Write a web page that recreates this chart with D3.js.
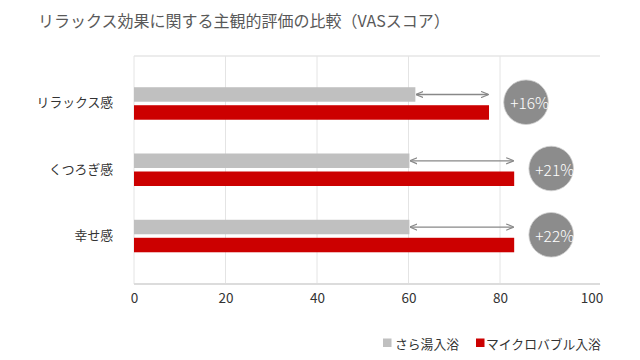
<!DOCTYPE html>
<html><head><meta charset="utf-8">
<script src="https://cdn.jsdelivr.net/npm/d3@7/dist/d3.min.js"></script>
<style>body{margin:0;background:#fff}svg{display:block}text{font-family:"Noto Sans CJK JP","Noto Sans",sans-serif}</style>
</head><body><svg id="c" width="640" height="360"></svg>
<script>
const title = "リラックス効果に関する主観的評価の比較（VASスコア）";
const categories = ["リラックス感", "くつろぎ感", "幸せ感"];
const seriesNames = ["さら湯入浴", "マイクロバブル入浴"];
const plainBath = [61.5, 60.2, 60.2];
const microBubble = [77.6, 83.1, 83.1];
const increaseLabels = ["+16%", "+21%", "+22%"];
const xTicks = [0, 20, 40, 60, 80, 100];
const colors = ["#c0c0c0", "#cc0000"];

const svg = d3.select("#c");
const pL = 134, pR = 600, pT = 56, pB = 284;
const x = d3.scaleLinear().domain([0, 100]).range([pL, 591.5]);
const y = d3.scalePoint().domain(categories).range([pT, pB]).padding(0.72);

svg.append("text").attr("x", 38).attr("y", 27).attr("font-size", 16).attr("fill", "#595959").text(title);

// frame top line
svg.append("line").attr("x1", pL).attr("x2", pR).attr("y1", pT).attr("y2", pT).attr("stroke", "#e6e6e6").attr("stroke-width", 1.5);
// gridlines
svg.append("g").selectAll("line").data(xTicks.filter(t => t > 0 && t < 100)).join("line")
  .attr("x1", d => x(d)).attr("x2", d => x(d)).attr("y1", pT).attr("y2", pB)
  .attr("stroke", "#e4e4e4").attr("stroke-width", 1);
svg.append("line").attr("x1", pL).attr("x2", pL).attr("y1", pT).attr("y2", pB).attr("stroke", "#e4e4e4");

// x axis
const ax = svg.append("g").attr("transform", `translate(0,${pB})`)
  .call(d3.axisBottom(x).tickValues(xTicks).tickSize(0).tickPadding(9));
ax.select(".domain").remove();
ax.selectAll("text").attr("font-size", 13.5).attr("fill", "#333").style("font-family", '"Noto Sans CJK JP","Noto Sans",sans-serif');
svg.append("line").attr("x1", pL).attr("x2", pR).attr("y1", pB).attr("y2", pB).attr("stroke", "#dcdcdc").attr("stroke-width", 2);

// category labels
svg.append("g").selectAll("text").data(categories).join("text")
  .attr("x", 113).attr("y", d => y(d) - 2).attr("text-anchor", "end").attr("dominant-baseline", "central")
  .attr("font-size", 12.8).attr("fill", "#333").text(d => d);

const bh = 14.5;
// gray bars
svg.append("g").selectAll("rect").data(plainBath).join("rect")
  .attr("x", x(0)).attr("y", (d, i) => y(categories[i]) - 16.5).attr("width", d => x(d) - x(0)).attr("height", bh).attr("fill", colors[0]);
// red bars
svg.append("g").selectAll("rect").data(microBubble).join("rect")
  .attr("x", x(0)).attr("y", (d, i) => y(categories[i]) + 1.5).attr("width", d => x(d) - x(0)).attr("height", bh).attr("fill", colors[1]);

// arrows
const defs = svg.append("defs");
defs.append("marker").attr("id", "ah").attr("viewBox", "0 0 10 10").attr("refX", 9).attr("refY", 5)
  .attr("markerWidth", 6).attr("markerHeight", 6).attr("orient", "auto-start-reverse")
  .append("path").attr("d", "M0,1 L10,5 L0,9").attr("fill", "none").attr("stroke", "#888").attr("stroke-width", 1.5);
svg.append("g").selectAll("line").data(categories).join("line")
  .attr("x1", (d, i) => x(plainBath[i]) + 1).attr("x2", (d, i) => x(microBubble[i]) - 1)
  .attr("y1", (d, i) => y(d) - 9.2).attr("y2", (d, i) => y(d) - 9.2)
  .attr("stroke", "#888").attr("stroke-width", 1.3)
  .attr("marker-start", "url(#ah)").attr("marker-end", "url(#ah)");

// circles
const cg = svg.append("g").selectAll("g").data(categories).join("g")
  .attr("transform", (d, i) => `translate(${x(microBubble[i]) + 37},${y(d) - 1.5})`);
cg.append("circle").attr("r", 22.3).attr("fill", "#8c8c8c").attr("stroke", "#cfcfcf").attr("stroke-width", 0.8);
cg.append("text").attr("x", 3.5).attr("text-anchor", "middle").attr("dominant-baseline", "central")
  .attr("font-size", 15.5).attr("font-weight", 300).attr("fill", "#fff").text((d, i) => increaseLabels[i]);

// legend
const lg = svg.append("g").attr("transform", "translate(0,343)");
const sqX = [383, 476], txX = [395, 486];
seriesNames.forEach((n, i) => {
  lg.append("rect").attr("x", sqX[i]).attr("y", -4.5).attr("width", 8.5).attr("height", 8.5).attr("fill", colors[i]);
  lg.append("text").attr("x", txX[i]).attr("y", 0).attr("dominant-baseline", "central")
    .attr("font-size", 12.8).attr("fill", "#333").text(n);
});
</script></body></html>
